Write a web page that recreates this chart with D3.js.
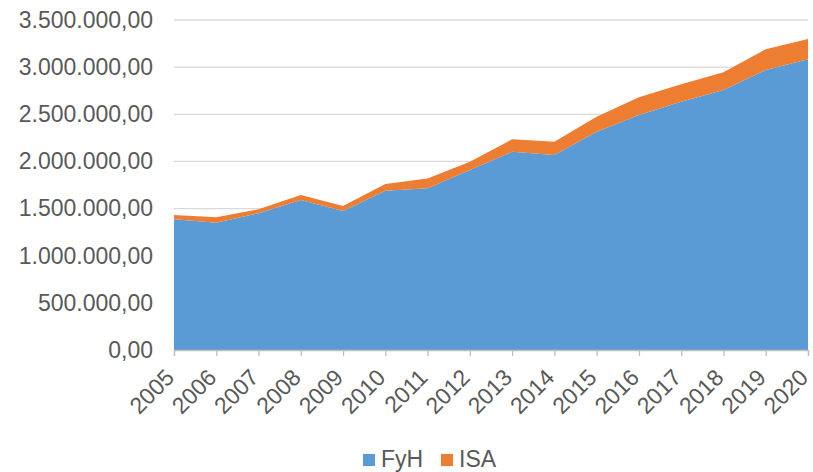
<!DOCTYPE html>
<html>
<head>
<meta charset="utf-8">
<script src="https://d3js.org/d3.v7.min.js"></script>
<style>
  body { margin: 0; background: #fff; }
  text { font-family: "Liberation Sans", Arial, sans-serif; fill: #595959; }
</style>
</head>
<body>
<script>
// Data
const years = ["2005","2006","2007","2008","2009","2010","2011","2012","2013","2014","2015","2016","2017","2018","2019","2020"];
const fyh = [1386000, 1350000, 1450000, 1591000, 1474000, 1690000, 1715000, 1909000, 2103000, 2068000, 2315000, 2492000, 2633000, 2757000, 2970000, 3083000];
const isa = [46000, 57000, 42000, 53000, 53000, 70000, 105000, 88000, 131000, 141000, 159000, 188000, 185000, 188000, 219000, 215000];
const yTicks = [0, 500000, 1000000, 1500000, 2000000, 2500000, 3000000, 3500000];
const seriesNames = ["FyH", "ISA"];
const colors = ["#5b9bd5", "#ed7d31"];

const width = 813, height = 472;
const margin = { top: 20, right: 5, bottom: 122, left: 174 };

const svg = d3.select("body").append("svg")
    .attr("width", width)
    .attr("height", height);

// Build table for stacking
const table = years.map((y, i) => ({ year: y, FyH: fyh[i], ISA: isa[i] }));
const stacked = d3.stack().keys(seriesNames)(table);

const x = d3.scalePoint()
    .domain(years)
    .range([margin.left, width - margin.right]);

const y = d3.scaleLinear()
    .domain([0, 3500000])
    .range([height - margin.bottom, margin.top]);

// Spanish style number format
const fmt = d => d3.format(",.2f")(d).replace(/,/g, "#").replace(/\./g, ",").replace(/#/g, ".");

// Gridlines
svg.append("g")
    .selectAll("line")
    .data(yTicks.slice(1))
    .enter().append("line")
    .attr("x1", margin.left)
    .attr("x2", width - margin.right)
    .attr("y1", d => y(d))
    .attr("y2", d => y(d))
    .attr("stroke", "#d9d9d9")
    .attr("stroke-width", 1.3);

// Areas
const area = d3.area()
    .x(d => x(d.data.year))
    .y0(d => y(d[0]))
    .y1(d => y(d[1]));

svg.append("g")
    .selectAll("path")
    .data(stacked)
    .enter().append("path")
    .attr("d", area)
    .attr("fill", (d, i) => colors[i]);

// Y axis labels
const yAxis = svg.append("g")
    .attr("transform", `translate(${margin.left},0)`)
    .call(d3.axisLeft(y).tickValues(yTicks).tickFormat(fmt).tickSize(0).tickPadding(21));
yAxis.select(".domain").remove();
yAxis.selectAll("text")
    .style("font-size", "23px")
    .attr("fill", "#595959");

// X axis
const xAxis = svg.append("g")
    .attr("transform", `translate(0,${height - margin.bottom})`)
    .call(d3.axisBottom(x).tickSize(6));
xAxis.select(".domain").attr("stroke", "#bfbfbf").attr("stroke-width", 1.3);
xAxis.selectAll(".tick line").attr("stroke", "#bfbfbf").attr("stroke-width", 1.3);
xAxis.selectAll("text")
    .style("font-size", "23px")
    .attr("fill", "#595959")
    .attr("text-anchor", "end")
    .attr("x", 0)
    .attr("y", 0)
    .attr("dy", 0)
    .attr("transform", "translate(1,29) rotate(-45)");

// Legend
const legendItems = [
    { name: "FyH", color: colors[0], x: 363 },
    { name: "ISA", color: colors[1], x: 441 }
];
const legend = svg.append("g");
legend.selectAll("rect")
    .data(legendItems)
    .enter().append("rect")
    .attr("x", d => d.x)
    .attr("y", 454)
    .attr("width", 12)
    .attr("height", 12)
    .attr("fill", d => d.color);
legend.selectAll("text")
    .data(legendItems)
    .enter().append("text")
    .attr("x", d => d.x + 18)
    .attr("y", 467)
    .style("font-size", "23px")
    .text(d => d.name);
</script>
</body>
</html>
